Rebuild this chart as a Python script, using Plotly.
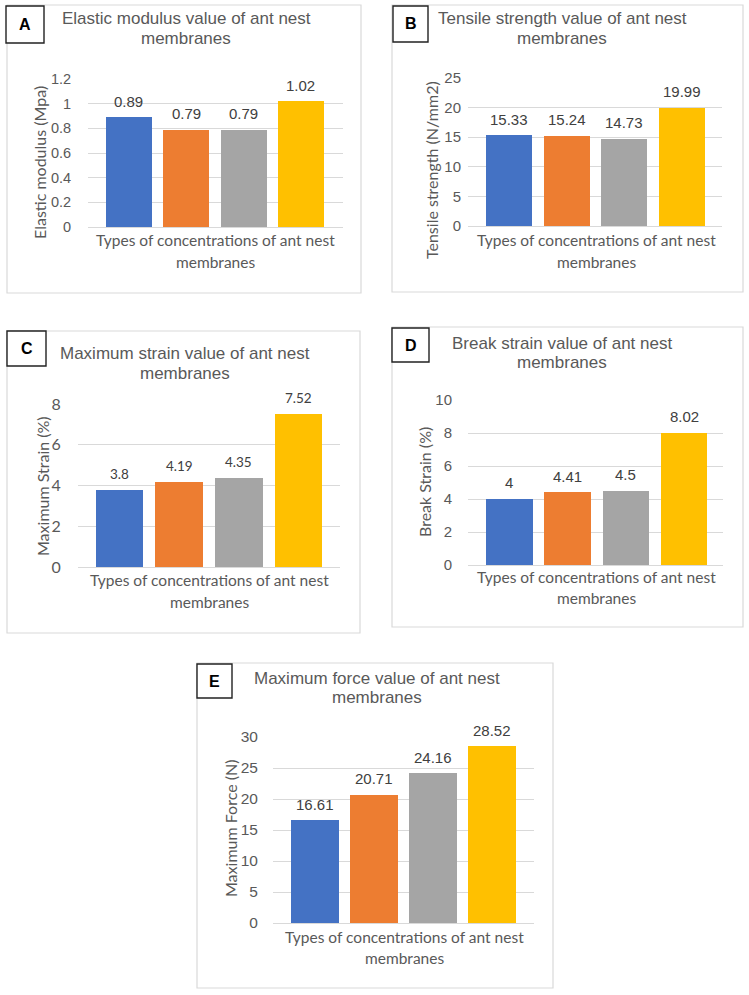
import plotly.graph_objects as go

W, H = 749, 995

# ---------------- data ----------------
categories = ["C1", "C2", "C3", "C4"]
bar_colors = ["#4472C4", "#ED7D31", "#A5A5A5", "#FFC000"]

elastic_modulus = [0.89, 0.79, 0.79, 1.02]
tensile_strength = [15.33, 15.24, 14.73, 19.99]
maximum_strain = [3.8, 4.19, 4.35, 7.52]
break_strain = [4, 4.41, 4.5, 8.02]
maximum_force = [16.61, 20.71, 24.16, 28.52]

ticks_a = [0, 0.2, 0.4, 0.6, 0.8, 1, 1.2]
ticks_b = [0, 5, 10, 15, 20, 25]
ticks_c = [0, 2, 4, 6, 8]
ticks_d = [0, 2, 4, 6, 8, 10]
ticks_e = [0, 5, 10, 15, 20, 25, 30]

letters = ["A", "B", "C", "D", "E"]
titles = [
    ("Elastic modulus value of ant nest", "membranes"),
    ("Tensile strength value of ant nest", "membranes"),
    ("Maximum strain value of ant nest", "membranes"),
    ("Break strain value of ant nest", "membranes"),
    ("Maximum force value of ant nest", "membranes"),
]
y_titles = ["Elastic modulus (Mpa)", "Tensile strength (N/mm2)", "Maximum Strain (%)",
            "Break Strain (%)", "Maximum Force (N)"]
x_title = ("Types of concentrations of ant nest", "membranes")

# ---------------- layout helpers (pixel -> paper) ----------------
def px(x):
    return x / W

def py(y):
    return 1 - y / H

TXT = "#595959"
GRID = "#D9D9D9"
ARIAL = "Liberation Sans, Arial, sans-serif"
CAL = "Lato, Carlito, sans-serif"

panels = [
    dict(values=elastic_modulus, ticks=ticks_a, plot=(88, 343, 79, 227), xr=(-0.715, 3.733),
         box=(7, 361, 5, 293), lbox=(6, 44, 6, 43), tcx=186, t1=18, t2=38,
         xt=(215, 240, 262), yt=(39, 163), tickfs=14.5, tickfont=ARIAL, labfs=15,
         labfont=ARIAL, standoff=13),
    dict(values=tensile_strength, ticks=ticks_b, plot=(468, 722, 78, 226), xr=(-0.713, 3.704),
         box=(392, 743, 5, 292), lbox=(393, 428, 6, 42), tcx=562, t1=18, t2=38,
         xt=(596, 240, 262), yt=(432, 170), tickfs=15, tickfont=ARIAL, labfs=15,
         labfont=ARIAL, standoff=3),
    dict(values=maximum_strain, ticks=ticks_c, plot=(78, 340, 404, 567), xr=(-0.695, 3.695),
         box=(7, 360, 331, 633), lbox=(7, 46, 331, 366), tcx=185, t1=353, t2=373,
         xt=(210, 580, 602), yt=(42, 486), tickfs=16, tickfont=CAL, labfs=13.5,
         labfont=CAL, standoff=13),
    dict(values=break_strain, ticks=ticks_d, plot=(468, 723, 400, 565), xr=(-0.713, 3.67),
         box=(392, 743, 327, 627), lbox=(392, 429, 328, 362), tcx=562, t1=343, t2=362,
         xt=(596, 577, 598), yt=(425, 482), tickfs=15, tickfont=ARIAL, labfs=15,
         labfont=ARIAL, standoff=12),
    dict(values=maximum_force, ticks=ticks_e, plot=(273, 534, 737, 923), xr=(-0.712, 3.712),
         box=(197, 553, 663, 988), lbox=(197, 232, 664, 698), tcx=377, t1=678, t2=697,
         xt=(404, 937, 958), yt=(230, 829), tickfs=15.5, tickfont=ARIAL, labfs=15,
         labfont=ARIAL, standoff=11),
]

fig = go.Figure()
shapes = []
annotations = []
xpos = list(range(len(categories)))

for i, p in enumerate(panels):
    n = "" if i == 0 else str(i + 1)
    x0, x1, y0, y1 = p["plot"]
    fig.add_trace(go.Bar(
        x=xpos, y=p["values"], marker=dict(color=bar_colors, line=dict(width=0)),
        width=0.8, xaxis="x" + n, yaxis="y" + n, showlegend=False,
        hovertext=categories,
    ))
    fig.update_layout(**{
        "xaxis" + n: dict(domain=[px(x0), px(x1)], range=list(p["xr"]), showticklabels=False,
                          showgrid=False, zeroline=False, showline=False, ticks="",
                          anchor="y" + n, fixedrange=True, automargin=False),
        "yaxis" + n: dict(domain=[py(y1), py(y0)], range=[p["ticks"][0], p["ticks"][-1]],
                          tickvals=p["ticks"], showgrid=True, gridcolor=GRID, gridwidth=1,
                          zeroline=True, zerolinecolor=GRID, zerolinewidth=1, showline=False,
                          ticks="outside", ticklen=p["standoff"], tickcolor="rgba(0,0,0,0)",
                          tickfont=dict(family=p["tickfont"], size=p["tickfs"], color=TXT),
                          anchor="x" + n, fixedrange=True, automargin=False),
    })
    # data labels
    for xi, v in zip(xpos, p["values"]):
        annotations.append(dict(x=xi, y=v, xref="x" + n, yref="y" + n, text=f"{v:g}",
                                showarrow=False, yanchor="middle", yshift=16,
                                font=dict(family=p["labfont"], size=p["labfs"], color="#404040")))
    # panel border
    bx0, bx1, by0, by1 = p["box"]
    shapes.append(dict(type="rect", xref="paper", yref="paper", x0=px(bx0), x1=px(bx1),
                       y0=py(by1), y1=py(by0), line=dict(color=GRID, width=1.2),
                       fillcolor="rgba(0,0,0,0)", layer="below"))
    # letter box
    lx0, lx1, ly0, ly1 = p["lbox"]
    shapes.append(dict(type="rect", xref="paper", yref="paper", x0=px(lx0), x1=px(lx1),
                       y0=py(ly1), y1=py(ly0), line=dict(color="#222222", width=1.4),
                       fillcolor="white", layer="above"))
    annotations.append(dict(x=px((lx0 + lx1) / 2), y=py((ly0 + ly1) / 2), xref="paper",
                            yref="paper", text="<b>" + letters[i] + "</b>", showarrow=False,
                            xanchor="center", yanchor="middle",
                            font=dict(family=ARIAL, size=16, color="black")))
    # title
    for line, yy in zip(titles[i], (p["t1"], p["t2"])):
        annotations.append(dict(x=px(p["tcx"]), y=py(yy), xref="paper", yref="paper",
                                text=line, showarrow=False, xanchor="center", yanchor="middle",
                                font=dict(family=ARIAL, size=17, color=TXT)))
    # x axis title
    xc, ya, yb = p["xt"]
    for line, yy in zip(x_title, (ya, yb)):
        annotations.append(dict(x=px(xc), y=py(yy), xref="paper", yref="paper", text=line,
                                showarrow=False, xanchor="center", yanchor="middle",
                                font=dict(family=CAL, size=15.5, color=TXT)))
    # y axis title
    ycx, ycy = p["yt"]
    annotations.append(dict(x=px(ycx), y=py(ycy), xref="paper", yref="paper",
                            text=y_titles[i], showarrow=False, textangle=-90,
                            xanchor="center", yanchor="middle",
                            font=dict(family=CAL, size=16, color=TXT)))

fig.update_layout(
    width=W, height=H, margin=dict(l=0, r=0, t=0, b=0, autoexpand=False),
    paper_bgcolor="white", plot_bgcolor="white",
    shapes=shapes, annotations=annotations, bargap=0, showlegend=False,
)

fig.write_html(
    "out.html",
    config={"displayModeBar": False},
    post_script="document.body.style.margin='0px';document.body.style.overflow='hidden';"
                "document.documentElement.style.overflow='hidden';",
)
